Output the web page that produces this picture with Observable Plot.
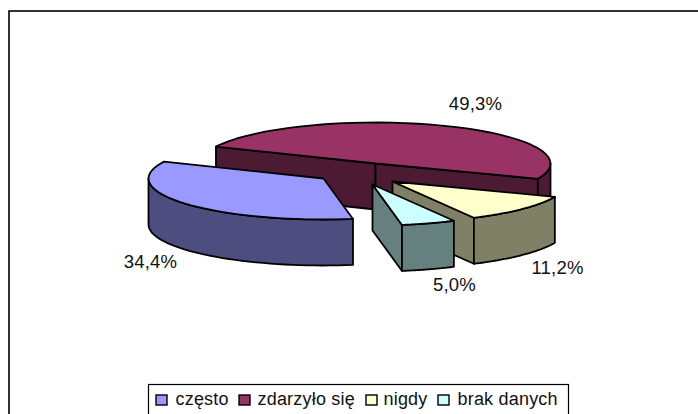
<!DOCTYPE html>
<html><head><meta charset="utf-8">
<script src="https://cdn.jsdelivr.net/npm/d3@7"></script>
<script src="https://cdn.jsdelivr.net/npm/@observablehq/plot@0.6"></script>
<style>html,body{margin:0;padding:0;background:#fff;overflow:hidden}svg{display:block}</style>
</head><body><div id="chart"></div>
<script>
const categories = ["często", "zdarzyło się", "nigdy", "brak danych"];
const shares = [34.4, 49.3, 11.2, 5.0];
const shareLabels = ["34,4%", "49,3%", "11,2%", "5,0%"];

const topColors = ["#9999FF", "#993366", "#FFFFCC", "#CCFFFF"];
const sideColors = ["#4D4D80", "#4D1A33", "#808066", "#668080"];
const apexX = [323, 375, 392, 372];
const apexY = [178, 163, 181, 184];
const labelX = [150, 475, 557, 454];
const labelY = [262, 104, 268, 285];
const legendSwatchX = [156, 239, 366, 438];
const legendTextX = [175, 257, 383, 457];
const firstAngle = 170.3, rx = 175, ry = 41, depth = 46;

const total = d3.sum(shares);
let acc = firstAngle;
const sweeps = shares.map(v => { const a0 = acc, a1 = acc + v / total * 360; acc = a1; return [a0, a1]; });
const rad = a => a * Math.PI / 180;
const rim = (i, a, dz = 0) => ({x: apexX[i] + rx * Math.sin(rad(a)), y: apexY[i] - ry * Math.cos(rad(a)) + dz});
const arc = (i, a0, a1, dz = 0) => d3.range(0, 41).map(k => rim(i, a0 + (a1 - a0) * k / 40, dz));
const apex = (i, dz = 0) => ({x: apexX[i], y: apexY[i] + dz});

const topFace = i => [apex(i), ...arc(i, ...sweeps[i]), apex(i)];
const wall = (i, a0, a1) => [...arc(i, a0, a1), ...arc(i, a1, a0, depth), rim(i, a0)];
const cut = (i, a) => [apex(i), rim(i, a), rim(i, a, depth), apex(i, depth), apex(i)];
const poly = (pts, i, color) => Plot.line(pts, {x: "x", y: "y", fill: color, stroke: "#000", strokeWidth: 1.8, curve: "linear", strokeLinejoin: "round"});

const [a0, a1] = sweeps[1], [b0, b1] = sweeps[2], [c0, c1] = sweeps[3];
const marks = [
  poly(cut(1, a0 % 360), 1, sideColors[1]),
  poly(cut(1, a1), 1, sideColors[1]),
  poly(wall(1, 450, a1), 1, sideColors[1]),
  poly(topFace(1), 1, topColors[1]),
  poly(cut(2, b1), 2, sideColors[2]),
  poly(wall(2, b0, b1), 2, sideColors[2]),
  poly(topFace(2), 2, topColors[2]),
  poly(cut(3, c1), 3, sideColors[3]),
  poly(wall(3, c0, c1), 3, sideColors[3]),
  poly(topFace(3), 3, topColors[3]),
  poly(wall(0, sweeps[0][0], 270), 0, sideColors[0]),
  poly(topFace(0), 0, topColors[0]),
  Plot.text(shareLabels, {x: (d, i) => labelX[i], y: (d, i) => labelY[i], text: d => d, fontSize: 18.5, fill: "#111"}),
  Plot.rect([0], {x1: 9, x2: 720, y1: 11, y2: 440, fill: "none", stroke: "#000", strokeWidth: 1.6}),
  Plot.rect([0], {x1: 148.5, x2: 568.5, y1: 384.5, y2: 440, fill: "#fff", stroke: "#000", strokeWidth: 1.2}),
  Plot.rect(categories, {x1: (d, i) => legendSwatchX[i], x2: (d, i) => legendSwatchX[i] + 11, y1: 395, y2: 405, fill: (d, i) => topColors[i], stroke: "#000", strokeWidth: 1.4}),
  Plot.text(categories, {x: (d, i) => legendTextX[i], y: 399, text: d => d, textAnchor: "start", fontSize: 18, fill: "#111"})
];

const chart = Plot.plot({
  width: 698, height: 414,
  margin: 0,
  x: {type: "linear", domain: [0, 698], range: [0, 698], axis: null},
  y: {type: "linear", domain: [0, 414], range: [0, 414], axis: null},
  style: {fontFamily: "'Liberation Sans', Arial, sans-serif", letterSpacing: "0.2px", background: "#fff"},
  marks
});
document.getElementById("chart").append(chart);
</script></body></html>
